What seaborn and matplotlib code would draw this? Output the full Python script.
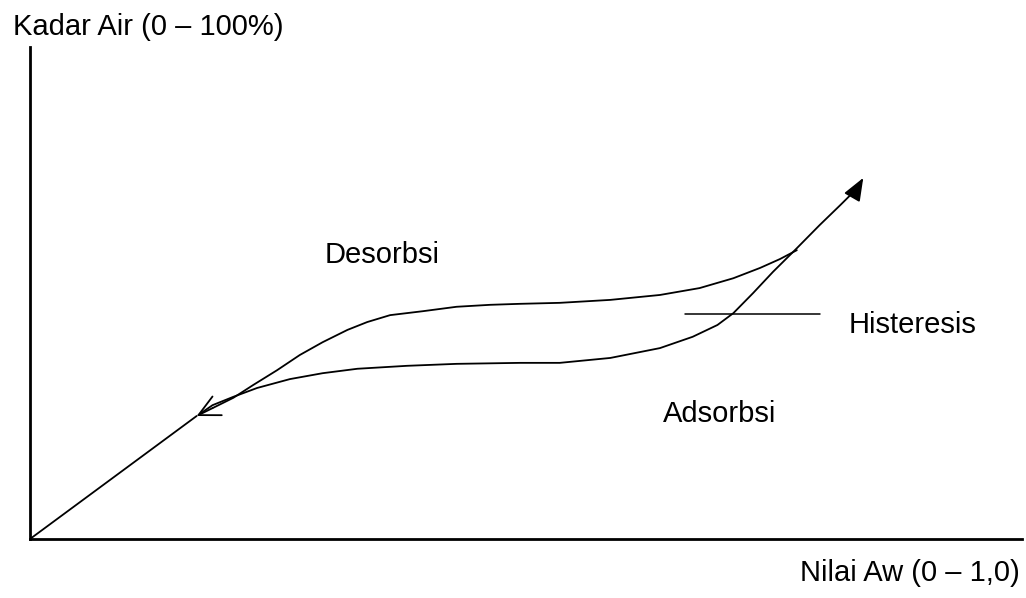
import numpy as np
import pandas as pd
import matplotlib
matplotlib.use("Agg")
import matplotlib.pyplot as plt
import seaborn as sns

sns.set_theme(style="white")
plt.rcParams['font.family'] = ['Liberation Sans', 'DejaVu Sans']
plt.rcParams['text.color'] = 'black'

# data (x = Aw 0..1, y = moisture 0..100)
line_x = [0.0, 0.168]
line_y = [0.0, 25.0]

ads_x = [0.171, 0.184, 0.205, 0.229, 0.262, 0.295, 0.330, 0.380, 0.430, 0.494,
         0.534, 0.585, 0.635, 0.668, 0.693, 0.709, 0.729, 0.749, 0.773, 0.796,
         0.817, 0.834, 0.840]
ads_y = [25.4, 27.2, 28.9, 30.7, 32.5, 33.7, 34.6, 35.2, 35.6, 35.8,
         35.8, 36.8, 38.8, 41.1, 43.5, 45.9, 50.0, 54.3, 59.1, 63.8,
         67.9, 71.3, 73.4]

des_x = [0.773, 0.756, 0.736, 0.709, 0.675, 0.635, 0.585, 0.534, 0.494, 0.464,
         0.430, 0.396, 0.363, 0.340, 0.320, 0.295, 0.272, 0.249, 0.225, 0.205,
         0.184, 0.168]
des_y = [58.7, 56.9, 55.1, 53.0, 51.0, 49.6, 48.6, 48.0, 47.8, 47.6,
         47.2, 46.3, 45.5, 44.1, 42.5, 40.0, 37.4, 34.3, 31.3, 28.7,
         26.6, 25.0]

hyst_x = [0.660, 0.796]
hyst_y = [45.7, 45.7]

labels = {"Desorbsi": (0.297, 56.1), "Adsorbsi": (0.638, 23.8), "Histeresis": (0.825, 41.9)}

fig = plt.figure(figsize=(10.26, 5.98), dpi=100)
ax = fig.add_axes([30 / 1026, 59 / 598, 992 / 1026, 492 / 598])

lw = 1.3
sns.lineplot(x=line_x, y=line_y, ax=ax, color='black', linewidth=lw, sort=False)
sns.lineplot(x=ads_x[:-1], y=ads_y[:-1], ax=ax, color='black', linewidth=lw, sort=False)
sns.lineplot(x=des_x[:-1], y=des_y[:-1], ax=ax, color='black', linewidth=lw, sort=False)
sns.lineplot(x=hyst_x, y=hyst_y, ax=ax, color='black', linewidth=1.1, sort=False)

# arrowheads
ax.annotate("", xy=(ads_x[-1], ads_y[-1]), xytext=(ads_x[-2], ads_y[-2]),
            arrowprops=dict(arrowstyle='-|>,head_length=1.4,head_width=0.55',
                            mutation_scale=10, color='black', lw=lw,
                            shrinkA=0, shrinkB=0))
ax.annotate("", xy=(des_x[-1], des_y[-1]), xytext=(des_x[-2], des_y[-2]),
            arrowprops=dict(arrowstyle='->,head_length=1.5,head_width=0.75',
                            mutation_scale=10, color='black', lw=lw,
                            shrinkA=0, shrinkB=0))

for txt, (tx, ty) in labels.items():
    ax.text(tx, ty, txt, fontsize=21, va='baseline', ha='left', color='black')

ax.set_xlim(0, 1.0)
ax.set_ylim(0, 100)
ax.set_xticks([])
ax.set_yticks([])
for s in ['top', 'right']:
    ax.spines[s].set_visible(False)
for s in ['left', 'bottom']:
    ax.spines[s].set_color('black')
    ax.spines[s].set_linewidth(2)

fig.text(13 / 1026, 1 - 35 / 598, "Kadar Air (0 – 100%)", fontsize=21, va='baseline', ha='left')
fig.text(1020 / 1026, 17 / 598, "Nilai Aw (0 – 1,0)", fontsize=21, va='baseline', ha='right')

fig.savefig("out.png", dpi=100, facecolor='white')
